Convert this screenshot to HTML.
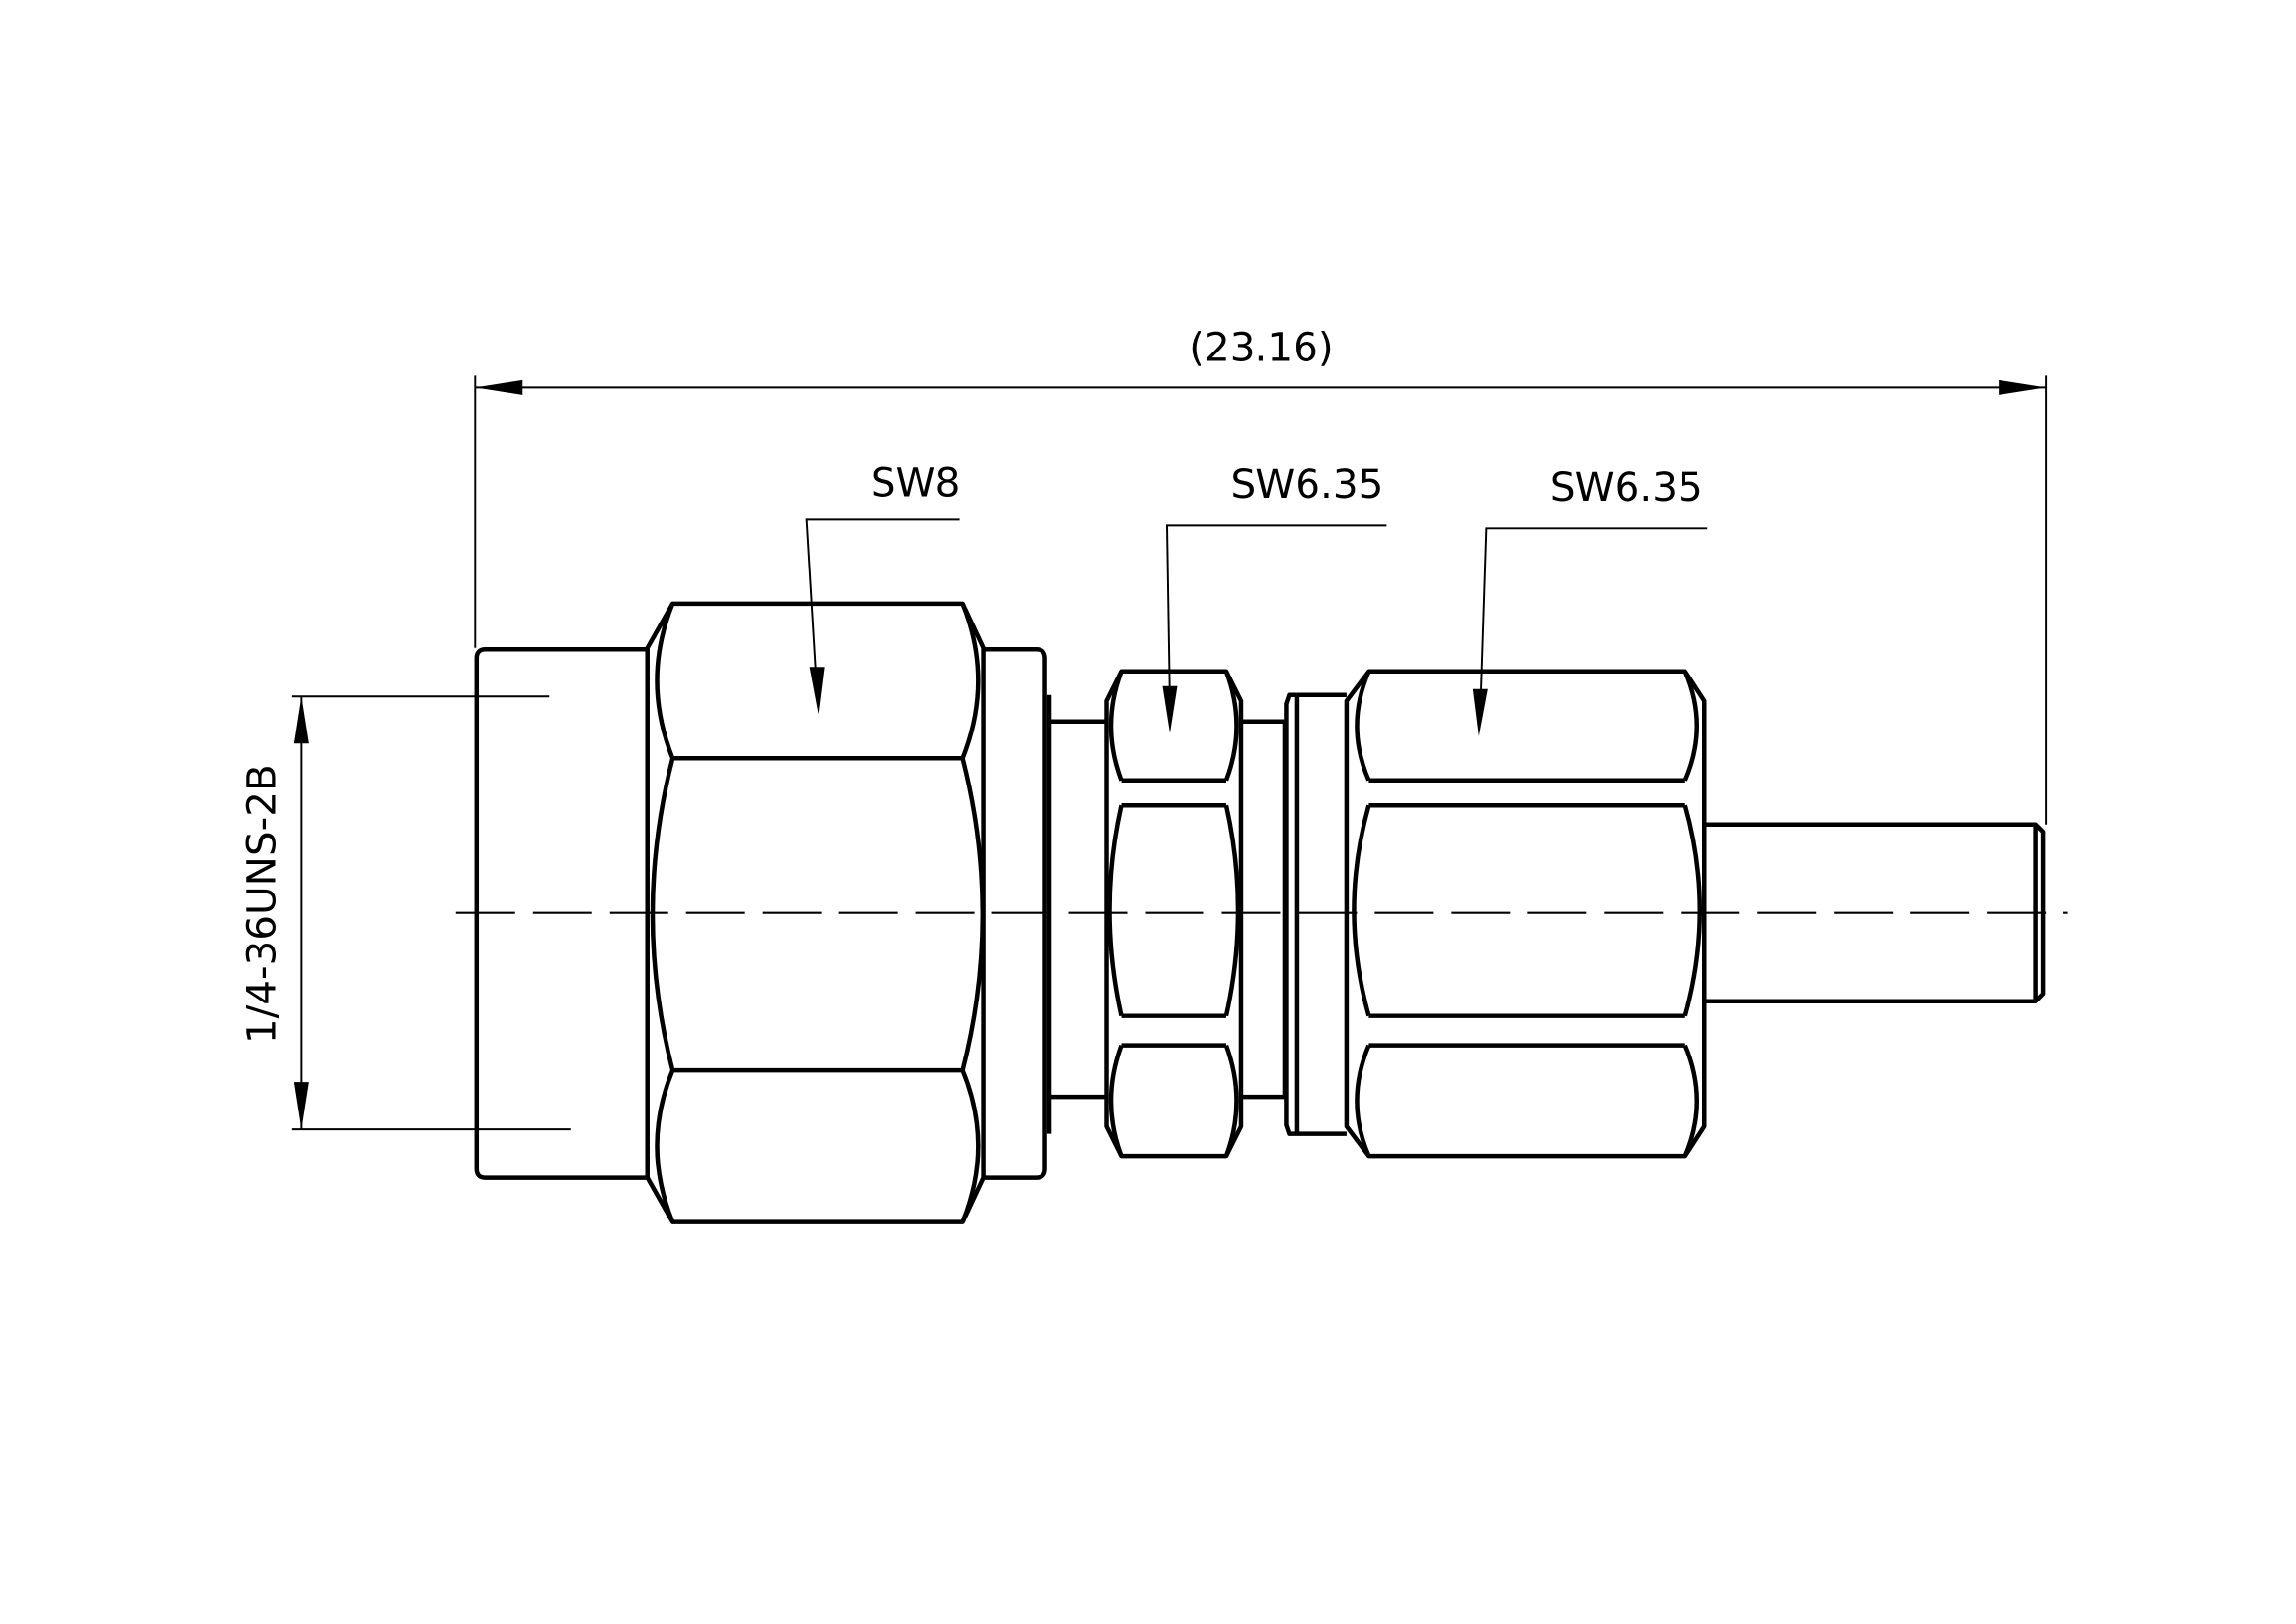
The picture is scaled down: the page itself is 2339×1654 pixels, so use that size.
<!DOCTYPE html>
<html><head><meta charset="utf-8"><style>
html,body{margin:0;padding:0;background:#fff;}
svg{display:block;}
text{font-family:"DejaVu Sans","Liberation Sans",sans-serif;fill:#000;}
</style></head><body>
<svg width="2339" height="1654" viewBox="0 0 1560 1103" preserveAspectRatio="none" xmlns="http://www.w3.org/2000/svg">
<rect width="1560" height="1103" fill="#fff"/>
<!-- centerline -->
<line x1="310" y1="620" x2="1405" y2="620" stroke="#000" stroke-width="1.4" stroke-dasharray="40 12"/>
<g fill="none" stroke="#000" stroke-width="1.3">
  <!-- top dimension -->
  <line x1="323" y1="263" x2="1390" y2="263"/>
  <line x1="323" y1="255" x2="323" y2="440"/>
  <line x1="1390" y1="255" x2="1390" y2="560"/>
  <!-- left dimension -->
  <line x1="198" y1="473" x2="373" y2="473"/>
  <line x1="198" y1="767" x2="388" y2="767"/>
  <line x1="205" y1="473" x2="205" y2="767"/>
  <!-- leaders -->
  <polyline points="652,353 548,353 555,470"/>
  <polyline points="942,357 793,357 795,480"/>
  <polyline points="1160,359 1010,359 1006,482"/>
</g>
<g fill="#000">
  <polygon points="323,263 355,258 355,268"/>
  <polygon points="1390,263 1358,258 1358,268"/>
  <polygon points="205,473 200,505 210,505"/>
  <polygon points="205,767 200,735 210,735"/>
  <polygon points="556,485 550,453 560,453"/>
  <polygon points="795,498 790,466 800,466"/>
  <polygon points="1005,500 1001,468 1011,468"/>
</g>
<text x="857" y="245" font-size="27" text-anchor="middle">(23.16)</text>
<text x="622" y="337" font-size="27" text-anchor="middle">SW8</text>
<text x="888" y="338" font-size="27" text-anchor="middle">SW6.35</text>
<text x="1105" y="340" font-size="27" text-anchor="middle">SW6.35</text>
<text transform="translate(187,614) rotate(-90)" font-size="27" text-anchor="middle">1/4-36UNS-2B</text>

<g fill="none" stroke="#000" stroke-width="3" stroke-linejoin="round">
  <!-- left body -->
  <path d="M440,441 H330 Q324,441 324,447 V794 Q324,800 330,800 H440"/>
  <!-- big hex -->
  <path d="M457,410 L654,410 L668,440 L668,800 L654,830 L457,830 L440,800 L440,440 Z"/>
  <path d="M457,515 H654 M457,727 H654"/>
  <path d="M457,410 Q436,462 457,515 M457,515 Q430,621 457,727 M457,727 Q436,778 457,830"/>
  <path d="M654,410 Q675,462 654,515 M654,515 Q681,621 654,727 M654,727 Q675,778 654,830"/>
  <!-- flange -->
  <path d="M668,441 H704 Q710,441 710,447 V794 Q710,800 704,800 H668"/>
  <path d="M713,472 V770"/>
  <path d="M713,490 H752 M713,745 H752"/>
  <!-- small hex 1 -->
  <path d="M762,456 H833 L843,476 V765 L833,785 H762 L752,765 V476 Z"/>
  <path d="M762,530 H833 M762,547 H833 M762,690 H833 M762,710 H833"/>
  <path d="M762,456 Q748,493 762,530 M762,547 Q746,618 762,690 M762,710 Q748,748 762,785"/>
  <path d="M833,456 Q847,493 833,530 M833,547 Q849,618 833,690 M833,710 Q847,748 833,785"/>
  <!-- neck 2 -->
  <path d="M843,490 H873 V745 H843"/>
  <!-- rings -->
  <path d="M881,472 H876 L874,478 V764 L876,770 H881"/>
  <path d="M881,472 H915 M881,770 H915 M881,472 V770"/>
  <!-- hex 2 -->
  <path d="M930,456 H1145 L1158,476 V765 L1145,785 H930 L915,765 V476 Z"/>
  <path d="M930,530 H1145 M930,547 H1145 M930,690 H1145 M930,710 H1145"/>
  <path d="M930,456 Q914,493 930,530 M930,547 Q910,618 930,690 M930,710 Q914,748 930,785"/>
  <path d="M1145,456 Q1161,493 1145,530 M1145,547 Q1165,618 1145,690 M1145,710 Q1161,748 1145,785"/>
  <!-- tube -->
  <path d="M1158,560 H1383 L1388,565 V675 L1383,680 H1158"/>
  <path d="M1383,560 V680"/>
</g>
</svg>
</body></html>
